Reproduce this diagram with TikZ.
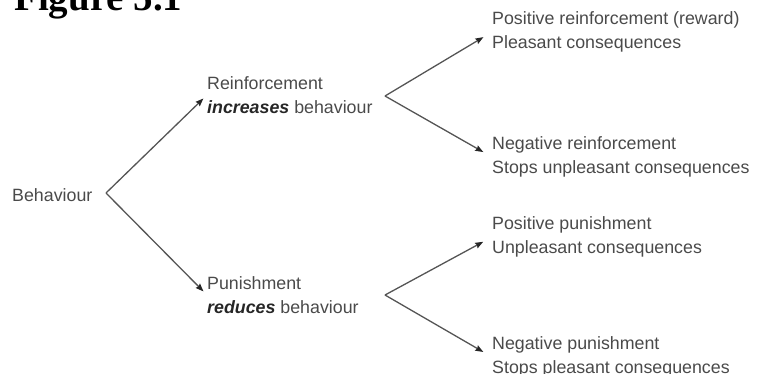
\documentclass[tikz,border=0pt]{standalone}
\usepackage{fontspec}
\setmainfont{Liberation Sans}
\newfontfamily\titlefont{Liberation Serif}
\usetikzlibrary{arrows.meta}
\definecolor{txtgray}{HTML}{4A4A4A}
\definecolor{linegray}{HTML}{555555}
\tikzset{%
    lbl/.style={anchor=west, align=left, inner xsep=0pt, inner ysep=1pt, text=txtgray,
                font=\fontsize{17.8}{24.5}\selectfont},
    arr/.style={line width=1.3pt, draw=linegray, -{Stealth[length=8pt, width=6pt, inset=1pt, black!85]}},
    arra/.style={arr, shorten >=5pt},
    arrb/.style={arr, shorten >=10pt}
}
\newcommand{\emw}[1]{\textcolor{black!85}{\textbf{\textit{#1}}}}

\begin{document}
\begin{tikzpicture}[x=1pt,y=-1pt]
    \useasboundingbox (0,0) rectangle (757,373);
    % title, cut by the page edge
    \node[anchor=base west, inner sep=0pt, font=\titlefont\bfseries\fontsize{39}{40}\selectfont] (title) at (14,10) {Figure 5.1};
    % text blocks
    \node[lbl] (beh) at (12,195) {Behaviour};
    \node[lbl] (reinf) at (207,95) {Reinforcement\\\emw{increases} behaviour};
    \node[lbl] (pun) at (207,295) {Punishment\\\emw{reduces} behaviour};
    \node[lbl] (posr) at (492,32) {Positive reinforcement (reward)\\Pleasant consequences};
    \node[lbl] (negr) at (492,157) {Negative reinforcement\\Stops unpleasant consequences};
    \node[lbl] (posp) at (492,237) {Positive punishment\\Unpleasant consequences};
    \node[lbl] (negp) at (492,357) {Negative punishment\\Stops pleasant consequences};
    % forks
    \coordinate (fbeh) at (106,193);
    \coordinate (freinf) at (385,96);
    \coordinate (fpun) at (385,295);
    \draw[arra] (fbeh) -- (reinf.west);
    \draw[arra] (fbeh) -- (pun.west);
    \draw[arrb] (freinf) -- (posr.west);
    \draw[arrb] (freinf) -- (negr.west);
    \draw[arrb] (fpun) -- (posp.west);
    \draw[arrb] (fpun) -- (negp.west);
\end{tikzpicture}
\end{document}
